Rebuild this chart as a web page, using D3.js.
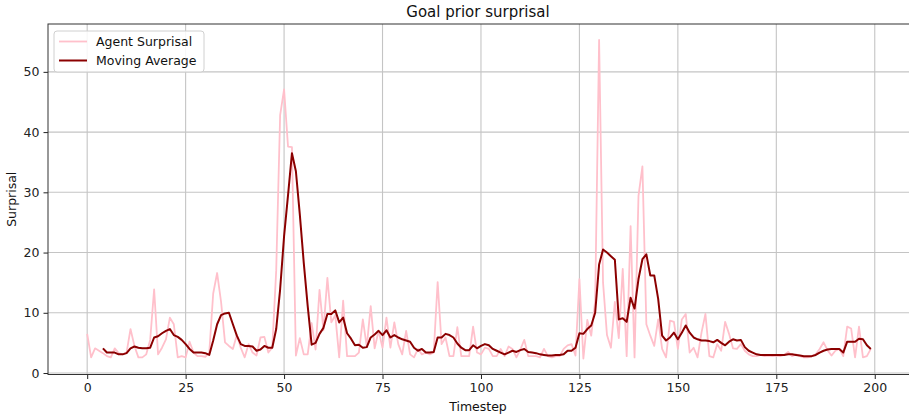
<!DOCTYPE html>
<html>
<head>
<meta charset="utf-8">
<script src="https://cdn.jsdelivr.net/npm/d3@7/dist/d3.min.js"></script>
<style>
  html, body { margin: 0; padding: 0; background: #fff; }
  svg { display: block; font-family: "DejaVu Sans", sans-serif; }
</style>
</head>
<body>
<svg id="chart" width="909" height="418"></svg>
<script>
// ---- data ----
const surprisal = [
  6.5, 2.6, 4.1, 3.7, 3.3, 2.8, 2.6, 4.1, 3.3, 3.1,
  3.4, 7.3, 4.5, 2.6, 2.6, 3.1, 5.5, 13.9, 3.1, 4.2,
  5.6, 9.2, 8.1, 2.6, 2.8, 2.6, 5.2, 3.4, 2.8, 2.8,
  2.7, 3.4, 13.2, 16.6, 11.8, 5.1, 4.5, 4.0, 6.3, 4.2,
  2.6, 4.8, 3.4, 2.9, 5.9, 6.0, 3.4, 4.2, 17.0, 42.8,
  47.1, 37.6, 37.5, 2.9, 5.8, 3.1, 3.1, 8.3, 3.9, 13.8,
  7.1, 15.8, 8.4, 9.6, 2.6, 12.0, 2.8, 2.8, 2.8, 3.4,
  8.9, 4.4, 11.1, 4.1, 7.0, 4.2, 9.2, 4.2, 8.4, 4.8,
  3.1, 7.0, 3.1, 2.6, 4.0, 3.1, 3.4, 3.1, 3.4, 15.1,
  4.8, 5.9, 2.8, 2.8, 7.6, 2.8, 2.8, 2.8, 7.7, 3.4,
  3.1, 4.2, 4.0, 2.8, 2.8, 4.0, 2.8, 4.4, 4.0, 2.6,
  3.9, 5.5, 2.8, 2.8, 2.8, 2.6, 4.0, 2.8, 2.6, 2.8,
  2.8, 4.0, 4.6, 4.8, 2.9, 15.6, 2.4, 8.8, 6.2, 12.0,
  55.3, 15.0, 6.3, 4.2, 11.8, 5.8, 17.3, 2.8, 24.4, 2.6,
  29.4, 34.3, 8.1, 6.2, 4.5, 8.9, 4.0, 2.6, 8.7, 8.5,
  4.0, 8.9, 9.8, 3.4, 4.2, 2.6, 6.7, 9.8, 2.8, 2.6,
  4.8, 3.7, 8.5, 6.5, 4.1, 4.0, 4.8, 3.7, 3.1, 2.8,
  2.8, 3.0, 2.8, 2.9, 2.8, 2.9, 2.8, 3.0, 3.5, 2.8,
  3.1, 2.8, 2.6, 2.6, 2.8, 3.1, 4.0, 5.1, 3.8, 2.9,
  3.7, 4.0, 2.8, 7.7, 7.4, 2.6, 7.7, 2.6, 2.8, 4.0
];
const maStart = 4;
const movingAvg = [
  4.1, 3.4, 3.4, 3.4, 3.1, 3.1, 3.3, 4.1, 4.4, 4.2,
  4.1, 4.1, 4.2, 5.9, 6.1, 6.6, 7.0, 7.3, 6.3, 6.0,
  5.5, 4.8, 4.0, 3.4, 3.4, 3.4, 3.3, 3.0, 5.4, 8.1,
  9.6, 9.9, 10.0, 8.1, 6.2, 4.8, 4.5, 4.5, 4.4, 3.7,
  3.9, 4.5, 4.2, 4.2, 7.3, 13.9, 22.7, 29.5, 36.5, 33.5,
  26.3, 18.3, 11.1, 4.7, 5.0, 6.5, 7.5, 9.8, 9.8, 10.4,
  8.4, 9.2, 6.6, 5.7, 4.6, 4.7, 4.2, 4.3, 5.9, 6.4,
  7.0, 6.3, 7.1, 5.9, 6.3, 5.9, 5.6, 5.4, 5.2, 4.2,
  3.7, 4.0, 3.4, 3.4, 3.5, 5.9, 5.9, 6.5, 6.3, 5.9,
  4.9, 4.2, 3.8, 3.8, 4.6, 4.1, 4.5, 4.8, 4.6, 4.0,
  3.7, 3.4, 3.1, 3.4, 3.7, 3.5, 3.8, 4.0, 3.5, 3.4,
  3.3, 3.1, 3.0, 2.9, 2.9, 3.0, 3.0, 3.1, 3.7, 3.7,
  4.2, 6.6, 6.5, 7.3, 7.9, 10.0, 18.0, 20.5, 20.0, 19.4,
  18.8, 8.9, 9.1, 8.5, 12.5, 10.7, 15.6, 18.9, 19.7, 16.2,
  16.2, 12.3, 6.2, 5.4, 5.9, 6.7, 5.6, 6.7, 7.9, 6.7,
  5.9, 5.6, 5.4, 5.4, 5.3, 5.1, 5.5, 5.0, 4.6, 5.2,
  5.6, 5.4, 5.5, 4.3, 3.7, 3.4, 3.1, 3.0, 3.0, 3.0,
  3.0, 3.0, 3.0, 3.0, 3.1, 3.1, 3.0, 2.9, 2.8, 2.8,
  2.8, 3.0, 3.4, 3.7, 3.9, 4.0, 4.0, 4.0, 3.4, 5.2,
  5.2, 5.2, 5.7, 5.6, 4.6, 4.0
];
const xTicks = [0, 25, 50, 75, 100, 125, 150, 175, 200];
const yTicks = [0, 10, 20, 30, 40, 50];
const seriesNames = ["Agent Surprisal", "Moving Average"];
const titleText = "Goal prior surprisal";
const xLabel = "Timestep";
const yLabel = "Surprisal";

// ---- layout ----
const L = 48, R = 910, T = 24, B = 374.5;
const svg = d3.select("#chart");

const n = surprisal.length;
const xPad = (n - 1) * 0.05;
const x = d3.scaleLinear().domain([-xPad, n - 1 + xPad]).range([L, R]);
const allVals = surprisal.concat(movingAvg);
const [vmin, vmax] = d3.extent(allVals);
const yPad = (vmax - vmin) * 0.05;
const y = d3.scaleLinear().domain([vmin - yPad, vmax + yPad]).range([B, T]);

svg.append("defs").append("clipPath").attr("id", "clip")
  .append("rect").attr("x", L).attr("y", T).attr("width", R - L).attr("height", B - T);

// grid
const grid = svg.append("g");
grid.selectAll(".gx").data(xTicks).enter().append("line")
  .attr("x1", d => x(d)).attr("x2", d => x(d)).attr("y1", T).attr("y2", B)
  .attr("stroke", "#c4c4c4").attr("stroke-width", 1.1);
grid.selectAll(".gy").data(yTicks).enter().append("line")
  .attr("x1", L).attr("x2", R).attr("y1", d => y(d)).attr("y2", d => y(d))
  .attr("stroke", "#c4c4c4").attr("stroke-width", 1.1);

// lines
const plot = svg.append("g").attr("clip-path", "url(#clip)");
const line = d3.line().x(d => x(d[0])).y(d => y(d[1]));
plot.append("path")
  .datum(surprisal.map((v, i) => [i, v]))
  .attr("d", line).attr("fill", "none")
  .attr("stroke", "#ffc0cb").attr("stroke-width", 1.8).attr("stroke-linejoin", "round");
plot.append("path")
  .datum(movingAvg.map((v, i) => [i + maStart, v]))
  .attr("d", line).attr("fill", "none")
  .attr("stroke", "#8b0000").attr("stroke-width", 2).attr("stroke-linejoin", "round");

// axes
const xAxis = d3.axisBottom(x).tickValues(xTicks).tickSize(4.5).tickPadding(4).tickFormat(d3.format("d"));
const yAxis = d3.axisLeft(y).tickValues(yTicks).tickSize(4.5).tickPadding(4).tickFormat(d3.format("d"));
const gx = svg.append("g").attr("transform", `translate(0,${B})`).call(xAxis);
const gy = svg.append("g").attr("transform", `translate(${L},0)`).call(yAxis);
[gx, gy].forEach(g => {
  g.select(".domain").remove();
  g.selectAll(".tick line").attr("stroke", "#222").attr("stroke-width", 1);
  g.selectAll(".tick text").attr("fill", "#222").style("font-size", "12.5px")
    .style("font-family", "'DejaVu Sans', sans-serif");
});

// frame
svg.append("rect").attr("x", L).attr("y", T).attr("width", R - L).attr("height", B - T)
  .attr("fill", "none").attr("stroke", "#333").attr("stroke-width", 1);

// labels
svg.append("text").attr("x", (L + R) / 2 - 1).attr("y", 17).attr("text-anchor", "middle")
  .style("font-size", "15px").attr("fill", "#111").text(titleText);
svg.append("text").attr("x", (L + R) / 2 - 1).attr("y", 411).attr("text-anchor", "middle")
  .style("font-size", "12.5px").attr("fill", "#111").text(xLabel);
svg.append("text").attr("transform", `translate(16,${(T + B) / 2}) rotate(-90)`)
  .attr("text-anchor", "middle").style("font-size", "12.5px").attr("fill", "#111").text(yLabel);

// legend
const lg = svg.append("g");
lg.append("rect").attr("x", 54).attr("y", 31).attr("width", 150).attr("height", 41)
  .attr("rx", 3).attr("fill", "#fff").attr("fill-opacity", 0.85)
  .attr("stroke", "#d0d0d0").attr("stroke-width", 1);
const legColors = ["#ffc0cb", "#8b0000"];
seriesNames.forEach((name, i) => {
  const yy = 41.5 + i * 19;
  lg.append("line").attr("x1", 59).attr("x2", 87).attr("y1", yy).attr("y2", yy)
    .attr("stroke", legColors[i]).attr("stroke-width", i === 0 ? 1.8 : 2);
  lg.append("text").attr("x", 96).attr("y", yy + 4.5).style("font-size", "12.5px")
    .attr("fill", "#111").text(name);
});
</script>
</body>
</html>
